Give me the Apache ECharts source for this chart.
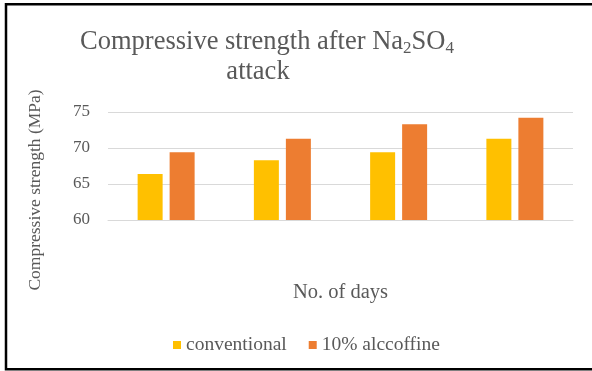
<!DOCTYPE html>
<html>
<head>
<meta charset="utf-8">
<script src="https://cdn.jsdelivr.net/npm/echarts@6/dist/echarts.min.js"></script>
<style>
  html, body { margin: 0; padding: 0; background: #fff; }
  #chart { width: 592px; height: 371px; }
</style>
</head>
<body>
<div id="chart"></div>
<script>
// Sampling periods (not labelled on the axis)
const periods = ['P1', 'P2', 'P3', 'P4'];
const conventional = [66.4, 68.3, 69.4, 71.3];
const alccofine10 = [69.4, 71.3, 73.3, 74.2];
const seriesNames = ['conventional', '10% alccoffine'];
const yTicks = [60, 65, 70, 75];

const SERIF = '"Liberation Serif", "DejaVu Serif", serif';
const GREY = '#595959';

const titleRich = {
  t: { fontFamily: SERIF, fontSize: 26.5, fontWeight: 'normal', color: GREY, lineHeight: 30 },
  s: { fontFamily: SERIF, fontSize: 17, fontWeight: 'normal', color: GREY, lineHeight: 14, verticalAlign: 'bottom' }
};

const chart = echarts.init(document.getElementById('chart'), null, { renderer: 'canvas' });

chart.setOption({
  animation: false,
  backgroundColor: '#ffffff',
  title: [
    {
      text: '{t|Compressive strength after Na}{s|2}{t|SO}{s|4}',
      left: 262,
      top: 22,
      textAlign: 'center',
      textStyle: { fontWeight: 'normal', rich: titleRich }
    },
    {
      text: '{t|attack}',
      left: 253,
      top: 52,
      textAlign: 'center',
      textStyle: { fontWeight: 'normal', rich: titleRich }
    }
  ],
  legend: {
    data: seriesNames,
    left: 168,
    top: 330,
    itemWidth: 8,
    itemHeight: 8,
    itemGap: 22,
    icon: 'rect',
    textStyle: { fontFamily: SERIF, fontSize: 19.5, color: GREY }
  },
  grid: { left: 108, right: 19, top: 112, bottom: 151 },
  xAxis: {
    type: 'category',
    data: periods,
    name: 'No. of days',
    nameLocation: 'middle',
    nameGap: 62,
    nameTextStyle: { fontFamily: SERIF, fontSize: 20.5, color: GREY },
    axisLine: { lineStyle: { color: '#d9d9d9', width: 1 } },
    axisTick: { show: false },
    axisLabel: { show: false }
  },
  yAxis: {
    type: 'value',
    min: yTicks[0],
    max: yTicks[yTicks.length - 1],
    interval: 5,
    name: 'Compressive strength (MPa)',
    nameLocation: 'middle',
    nameGap: 64,
    nameRotate: 90,
    nameTextStyle: { fontFamily: SERIF, fontSize: 17.5, color: GREY, padding: [0, 48, 0, 0] },
    axisLine: { show: false },
    axisTick: { show: false },
    axisLabel: { fontFamily: SERIF, fontSize: 17, color: GREY, margin: 18 },
    splitLine: { lineStyle: { color: '#d9d9d9', width: 1 } }
  },
  series: [
    {
      name: seriesNames[0],
      type: 'bar',
      data: conventional,
      barWidth: 25,
      barGap: '28%',
      itemStyle: { color: '#FFC000' }
    },
    {
      name: seriesNames[1],
      type: 'bar',
      data: alccofine10,
      barWidth: 25,
      itemStyle: { color: '#ED7D31' }
    }
  ],
  graphic: [
    {
      type: 'polyline',
      shape: { points: [[600, 4.3], [6, 4.3], [6, 369.3], [600, 369.3]] },
      style: { stroke: '#000', lineWidth: 2.5, fill: null },
      silent: true
    }
  ]
});
</script>
</body>
</html>
